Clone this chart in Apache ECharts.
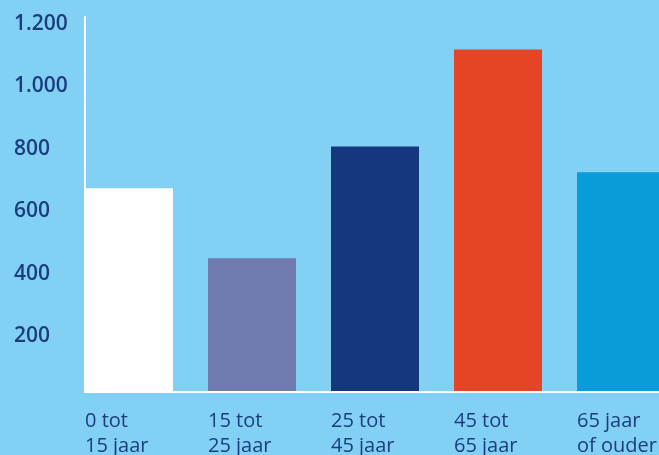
<!DOCTYPE html>
<html>
<head>
<meta charset="utf-8">
<script src="https://cdn.jsdelivr.net/npm/echarts@6/dist/echarts.min.js"></script>
<style>
  html, body { margin: 0; padding: 0; background: #83d0f5; }
  #chart { width: 659px; height: 455px; }
</style>
</head>
<body>
<div id="chart"></div>
<script>
// Data
const categories = ['0 tot\n15 jaar', '15 tot\n25 jaar', '25 tot\n45 jaar', '45 tot\n65 jaar', '65 jaar\nof ouder'];
const values = [652, 428, 786, 1096, 703];
const barColors = ['#ffffff', '#6f7aae', '#14377d', '#e64427', '#089dd8'];
const yTicks = [0, 200, 400, 600, 800, 1000, 1200];
const yTickLabels = ['', '200', '400', '600', '800', '1.000', '1.200'];

const textColor = '#1b3d7e';
const chart = echarts.init(document.getElementById('chart'), null, { renderer: 'canvas' });

// one extra empty slot so the axis line runs to the right edge
const axisCategories = categories.concat(['']);

chart.setOption({
  backgroundColor: '#83d0f5',
  animation: false,
  grid: { left: 85, top: 17, width: 615, bottom: 63, containLabel: false, outerBoundsMode: 'none' },
  xAxis: {
    type: 'category',
    data: axisCategories,
    boundaryGap: false,
    axisLine: { show: true, lineStyle: { color: '#ffffff', width: 2 } },
    axisTick: { show: false },
    splitLine: { show: false },
    axisLabel: {
      interval: 0,
      align: 'left',
      margin: 17,
      color: textColor,
      fontFamily: 'Open Sans',
      fontSize: 20,
      lineHeight: 25,
      verticalAlign: 'top',
      hideOverlap: false
    },
    z: 10
  },
  yAxis: {
    type: 'value',
    min: yTicks[0],
    max: yTicks[yTicks.length - 1],
    interval: 200,
    axisLine: { show: true, lineStyle: { color: '#ffffff', width: 2 } },
    axisTick: { show: false },
    splitLine: { show: false },
    axisLabel: {
      align: 'left',
      verticalAlign: 'top',
      lineHeight: 14,
      margin: 71,
      color: textColor,
      fontFamily: 'Open Sans',
      fontWeight: 600,
      fontSize: 21,
      formatter: function (v) {
        const i = yTicks.indexOf(v);
        return i >= 0 ? yTickLabels[i] : '';
      }
    }
  },
  series: [
    {
      name: 'spacer',
      type: 'bar',
      data: categories.map(() => '-'),
      barWidth: 88,
      barGap: '0%',
      silent: true,
      clip: false
    },
    {
      name: 'aantal',
      type: 'bar',
      data: values.map((v, i) => ({ value: v, itemStyle: { color: barColors[i] } })),
      barWidth: 88,
      barGap: '0%',
      clip: false
    }
  ]
});
</script>
</body>
</html>
